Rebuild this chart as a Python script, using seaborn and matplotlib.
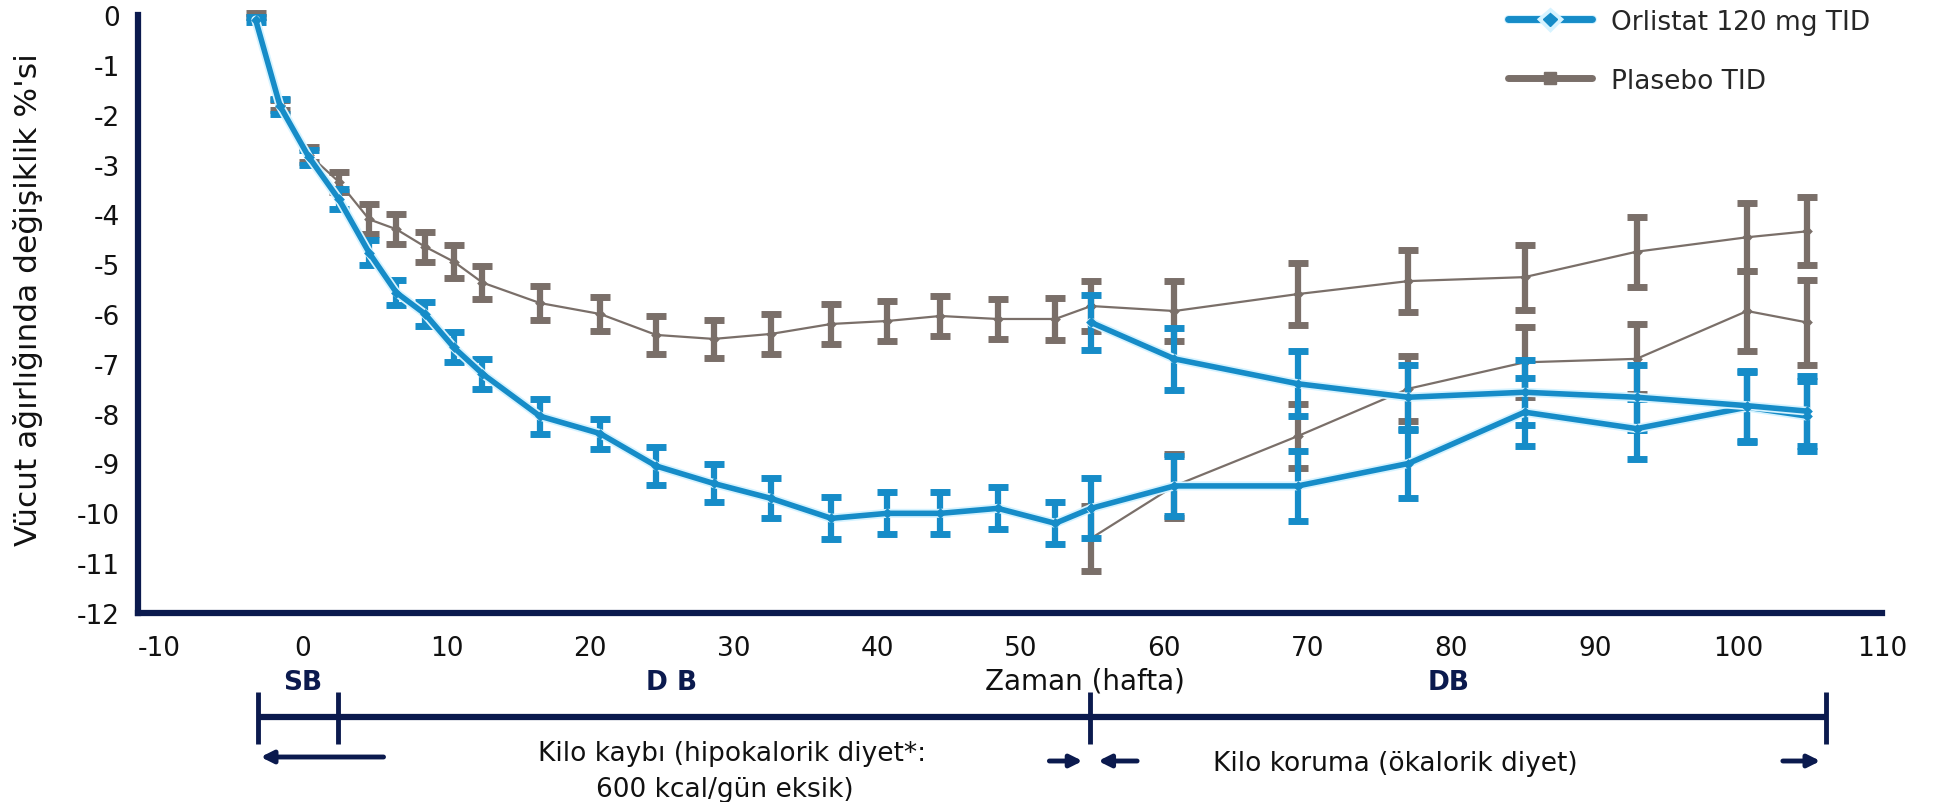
import pandas as pd
import matplotlib
matplotlib.use("Agg")
import matplotlib.pyplot as plt
import matplotlib.patheffects as pe
from matplotlib.lines import Line2D
import seaborn as sns

# ------------------------------
# Data
# ------------------------------
weeks_y1 = [-3.3, -1.6, 0.4, 2.5, 4.6, 6.5, 8.5, 10.5, 12.5, 16.5, 20.7,
            24.6, 28.6, 32.6, 36.8, 40.7, 44.4, 48.4, 52.4]
orlistat_y1 = [-0.1, -1.83, -2.85, -3.7, -4.77, -5.57, -6.0, -6.67, -7.2, -8.05,
               -8.4, -9.05, -9.4, -9.7, -10.1, -10.0, -10.0, -9.9, -10.2]
orlistat_y1_err = [0.05, 0.15, 0.15, 0.2, 0.25, 0.25, 0.25, 0.3, 0.3, 0.35,
                   0.3, 0.38, 0.38, 0.4, 0.42, 0.42, 0.42, 0.42, 0.42]
placebo_y1 = [0.0, -1.8, -2.8, -3.35, -4.1, -4.3, -4.65, -4.95, -5.37, -5.78,
              -6.0, -6.42, -6.5, -6.4, -6.2, -6.14, -6.04, -6.1, -6.1]
placebo_y1_err = [0.05, 0.1, 0.15, 0.2, 0.3, 0.3, 0.3, 0.33, 0.33, 0.35,
                  0.35, 0.38, 0.38, 0.4, 0.4, 0.4, 0.4, 0.4, 0.42]

weeks_y2 = [54.9, 60.7, 69.3, 77.0, 85.1, 92.9, 100.6, 104.8]
orl_orl = [-9.9, -9.45, -9.45, -9.0, -7.97, -8.3, -7.87, -8.05]
orl_orl_err = [0.6, 0.6, 0.7, 0.7, 0.68, 0.6, 0.7, 0.7]
pla_pla = [-5.84, -5.94, -5.6, -5.34, -5.26, -4.75, -4.46, -4.34]
pla_pla_err = [0.5, 0.6, 0.62, 0.62, 0.65, 0.7, 0.68, 0.68]
pla_orl = [-6.17, -6.9, -7.4, -7.67, -7.57, -7.67, -7.84, -7.95]
pla_orl_err = [0.55, 0.62, 0.65, 0.65, 0.65, 0.65, 0.7, 0.7]
orl_pla = [-10.5, -9.45, -8.45, -7.5, -6.97, -6.9, -5.94, -6.17]
orl_pla_err = [0.65, 0.65, 0.65, 0.65, 0.7, 0.7, 0.8, 0.85]

legend_labels = ["Orlistat 120 mg TID", "Plasebo TID"]
x_ticks = list(range(-10, 111, 10))
y_ticks = list(range(0, -13, -1))

BLUE = "#168cc8"
GREY = "#7a6f69"
NAVY = "#0b1a4e"
GLOW = [pe.withStroke(linewidth=6.5, foreground="#d6f3ff")]

# build the long table: one run per drawn line
runs = [
    ("orl_y1", BLUE, weeks_y1 + weeks_y2[:1], orlistat_y1 + orl_orl[:1]),
    ("pla_y1", GREY, weeks_y1 + weeks_y2[:1], placebo_y1 + pla_pla[:1]),
    ("orl_orl", BLUE, weeks_y2, orl_orl),
    ("pla_pla", GREY, weeks_y2, pla_pla),
    ("pla_orl", BLUE, weeks_y2, pla_orl),
    ("orl_pla", GREY, weeks_y2, orl_pla),
]
rows = []
for name, col, xs, ys in runs:
    for x, y in zip(xs, ys):
        rows.append({"run": name, "week": x, "change": y})
df = pd.DataFrame(rows)

plt.rcParams["axes.unicode_minus"] = False
sns.set_style("white")
plt.rcParams["font.family"] = ["DejaVu Sans"]

fig = plt.figure(figsize=(19.52, 8.03), dpi=100)
ax = fig.add_axes([138 / 1952, 1 - 614 / 803, (1882 - 138) / 1952, (614 - 16) / 803])

# error bars (grey first, blue on top)
err_sets = [
    (GREY, weeks_y1, placebo_y1, placebo_y1_err),
    (GREY, weeks_y2, pla_pla, pla_pla_err),
    (GREY, weeks_y2, orl_pla, orl_pla_err),
    (BLUE, weeks_y1, orlistat_y1, orlistat_y1_err),
    (BLUE, weeks_y2, orl_orl, orl_orl_err),
    (BLUE, weeks_y2, pla_orl, pla_orl_err),
]
for col, xs, ys, es in err_sets:
    eb = ax.errorbar(xs, ys, yerr=es, fmt="none", ecolor=col, elinewidth=4.5,
                     capsize=7.5, capthick=5, zorder=3 if col == GREY else 5)
    for art in eb.lines[1] + eb.lines[2]:
        art.set_clip_on(False)

# lines + markers through seaborn
for name, col, xs, ys in runs:
    sub = df[df["run"] == name]
    is_blue = col == BLUE
    sns.lineplot(data=sub, x="week", y="change", ax=ax, color=col,
                 linewidth=4 if is_blue else 1.6, sort=False, estimator=None,
                 zorder=6 if is_blue else 4, clip_on=False,
                 path_effects=GLOW if is_blue else None)
    sns.scatterplot(data=sub, x="week", y="change", ax=ax, color=col, marker="D",
                    s=30, linewidth=0, zorder=7 if is_blue else 4.5, clip_on=False)

ax.set_xlim(-11.5, 110)
ax.set_ylim(-12, 0)
ax.set_xticks(x_ticks)
ax.set_yticks(y_ticks)
ax.set_xticklabels([str(t) for t in x_ticks], fontsize=19)
ax.set_yticklabels([str(t) for t in y_ticks], fontsize=19)
ax.tick_params(axis="both", colors=NAVY, width=4, length=8, labelcolor="#111111")
ax.tick_params(axis="x", pad=8)
ax.tick_params(axis="y", pad=5)
for side in ["top", "right"]:
    ax.spines[side].set_visible(False)
for side in ["left", "bottom"]:
    ax.spines[side].set_color(NAVY)
    ax.spines[side].set_linewidth(4.5)
ax.set_xlabel("")
ax.set_ylabel("Vücut ağırlığında değişiklik %'si", fontsize=22.5, color="#111111")
ax.yaxis.set_label_coords(-0.0545, 0.525)

# legend
handles = [Line2D([], [], color=BLUE, lw=5, marker="D", markersize=7,
                  path_effects=GLOW),
           Line2D([], [], color=GREY, lw=5, marker="s", markersize=9)]
fig.legend(handles, legend_labels, loc="upper left", bbox_to_anchor=(1508 / 1952, 0.988),
           frameon=False, fontsize=19, handlelength=3.2, handletextpad=0.7,
           labelspacing=1.25, borderpad=0, borderaxespad=0)

# ------------------------------
# study-phase annotations under the x axis
# ------------------------------
trans = ax.get_xaxis_transform()


def yf(px):
    return (614 - px) / 598


ax.text(54.5, yf(682), "Zaman (hafta)", transform=trans, ha="center", va="center",
        fontsize=20, color="#111111")
for x, s in [(0.0, "SB"), (25.7, "D B"), (79.8, "DB")]:
    ax.text(x, yf(683), s, transform=trans, ha="center", va="center",
            fontsize=19, fontweight="bold", color=NAVY)

ax.plot([-3.15, 106.1], [yf(718), yf(718)], transform=trans, clip_on=False,
        color=NAVY, lw=4.5, solid_capstyle="butt")
for x in [-3.15, 2.4, 54.8, 106.1]:
    ax.plot([x, x], [yf(693), yf(745)], transform=trans, clip_on=False,
            color=NAVY, lw=3.5, solid_capstyle="butt")

arrows = [(-3.15, 5.8, 758), (54.5, 51.8, 762), (55.2, 58.3, 762), (105.9, 102.9, 762)]
for head, tail, ypx in arrows:
    ax.annotate("", xy=(head, yf(ypx)), xytext=(tail, yf(ypx)), xycoords=trans,
                textcoords=trans, annotation_clip=False,
                arrowprops=dict(arrowstyle="-|>", lw=3.5, color=NAVY, mutation_scale=18))

ax.text(29.9, yf(754), "Kilo kaybı (hipokalorik diyet*:", transform=trans,
        ha="center", va="center", fontsize=19, color="#111111")
ax.text(29.4, yf(790), "600 kcal/gün eksik)", transform=trans,
        ha="center", va="center", fontsize=19, color="#111111")
ax.text(76.1, yf(764), "Kilo koruma (ökalorik diyet)", transform=trans,
        ha="center", va="center", fontsize=19, color="#111111")

fig.savefig("out.png", dpi=100)
